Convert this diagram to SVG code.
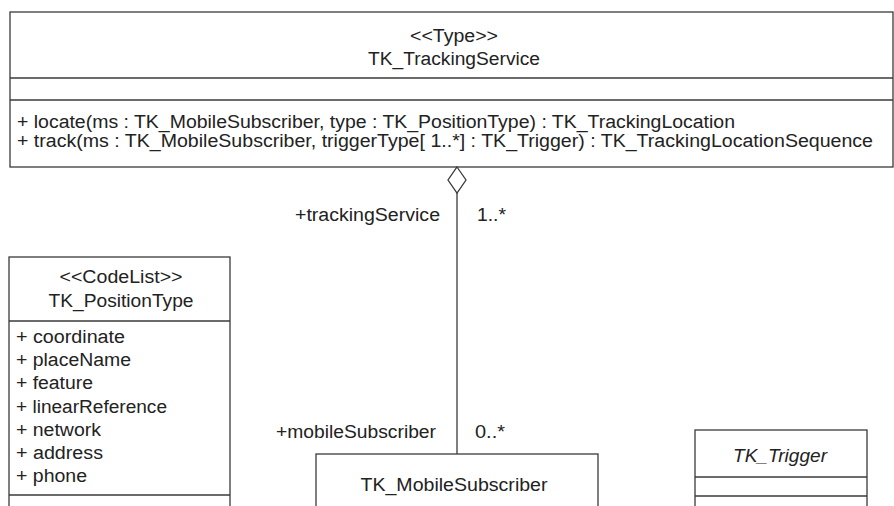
<svg xmlns="http://www.w3.org/2000/svg" width="894" height="506" viewBox="0 0 894 506">
<style>
.box{fill:#fff;stroke:#3a3a3a;stroke-width:1.3}
.sep{stroke:#3a3a3a;stroke-width:1.3}
text{font-family:"Liberation Sans",Arial,sans-serif;font-size:18px;fill:#222}
.c{text-anchor:middle}
.i{font-style:italic}
.conn{stroke:#3a3a3a;stroke-width:1.3;fill:none}
</style>
<rect width="894" height="506" fill="#fff"/>
<g id="TK_TrackingService">
<rect class="box" x="10" y="12" width="883" height="155"/>
<line class="sep" x1="10" y1="78" x2="893" y2="78"/>
<line class="sep" x1="10" y1="100" x2="893" y2="100"/>
<text class="c" x="454" y="42" textLength="88" lengthAdjust="spacingAndGlyphs">&lt;&lt;Type&gt;&gt;</text>
<text class="c" x="454" y="65" textLength="172" lengthAdjust="spacingAndGlyphs">TK_TrackingService</text>
<text x="17" y="128" textLength="718" lengthAdjust="spacingAndGlyphs">+ locate(ms : TK_MobileSubscriber, type : TK_PositionType) : TK_TrackingLocation</text>
<text x="17" y="147" textLength="856" lengthAdjust="spacingAndGlyphs">+ track(ms : TK_MobileSubscriber, triggerType[ 1..*] : TK_Trigger) : TK_TrackingLocationSequence</text>
</g>
<g id="TK_PositionType">
<rect class="box" x="9" y="257" width="221" height="260"/>
<line class="sep" x1="9" y1="321" x2="230" y2="321"/>
<line class="sep" x1="9" y1="495" x2="230" y2="495"/>
<text class="c" x="121" y="283" textLength="123" lengthAdjust="spacingAndGlyphs">&lt;&lt;CodeList&gt;&gt;</text>
<text class="c" x="121" y="307" textLength="145" lengthAdjust="spacingAndGlyphs">TK_PositionType</text>
<text x="16" y="343" textLength="109" lengthAdjust="spacingAndGlyphs">+ coordinate</text>
<text x="16" y="366" textLength="115" lengthAdjust="spacingAndGlyphs">+ placeName</text>
<text x="16" y="389" textLength="77" lengthAdjust="spacingAndGlyphs">+ feature</text>
<text x="16" y="413" textLength="151" lengthAdjust="spacingAndGlyphs">+ linearReference</text>
<text x="16" y="436" textLength="85" lengthAdjust="spacingAndGlyphs">+ network</text>
<text x="16" y="459" textLength="87" lengthAdjust="spacingAndGlyphs">+ address</text>
<text x="16" y="482" textLength="71" lengthAdjust="spacingAndGlyphs">+ phone</text>
</g>
<g id="TK_MobileSubscriber">
<rect class="box" x="316" y="454" width="282" height="70"/>
<text class="c" x="454" y="491" textLength="187" lengthAdjust="spacingAndGlyphs">TK_MobileSubscriber</text>
</g>
<g id="TK_Trigger">
<rect class="box" x="695" y="430" width="172" height="90"/>
<line class="sep" x1="695" y1="477" x2="867" y2="477"/>
<line class="sep" x1="695" y1="496" x2="867" y2="496"/>
<text class="c i" x="780" y="462" textLength="94" lengthAdjust="spacingAndGlyphs">TK_Trigger</text>
</g>
<g id="connectors">
<line class="conn" x1="457" y1="193" x2="457" y2="454"/>
<polygon class="conn" points="457,167 466,180 457,193 448,180" fill="#fff"/>
<text x="295" y="221" textLength="145" lengthAdjust="spacingAndGlyphs">+trackingService</text>
<text x="477" y="221" textLength="29" lengthAdjust="spacingAndGlyphs">1..*</text>
<text x="276" y="438" textLength="160" lengthAdjust="spacingAndGlyphs">+mobileSubscriber</text>
<text x="475" y="438" textLength="30" lengthAdjust="spacingAndGlyphs">0..*</text>
</g>
</svg>
